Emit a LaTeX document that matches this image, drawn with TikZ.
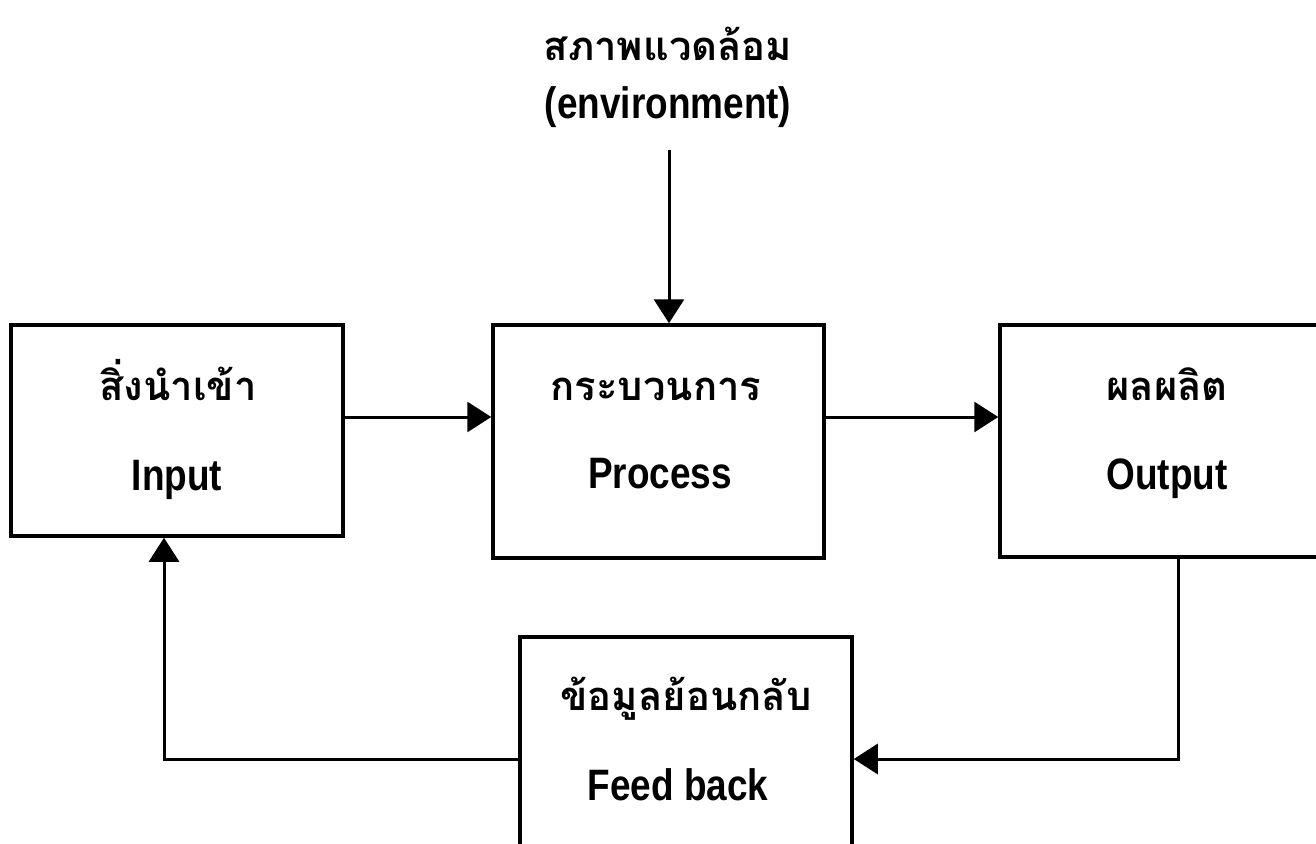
\documentclass[tikz,border=0pt]{standalone}
\usepackage{fontspec}
\setmainfont{Liberation Sans}[FakeStretch=0.84]
\newfontfamily\thaifont[Script=Thai]{Loma}
\usetikzlibrary{arrows.meta}
\tikzset{
  boxnode/.style={draw=black, line width=3.5pt, rectangle, inner sep=0pt},
  entext/.style={anchor=base, inner sep=0pt, font=\bfseries\fontsize{44}{50}\selectfont},
  thtext/.style={anchor=base, inner sep=0pt, font=\thaifont\bfseries\fontsize{40}{48}\selectfont},
  arr/.style={line width=3pt, -{Triangle[length=24pt,width=30pt]}},
  conn/.style={line width=3pt}
}
\begin{document}
\begin{tikzpicture}[x=1pt,y=-1pt]
\clip (0,0) rectangle (1316,843);
\fill[white] (0,0) rectangle (1316,843);
% boxes
\node[boxnode, minimum width=332pt, minimum height=211pt] (in) at (177,430.5) {};
\node[boxnode, minimum width=331pt, minimum height=233pt] (proc) at (658.5,441.5) {};
\node[boxnode, minimum width=334pt, minimum height=232pt] (out) at (1167,441) {};
\node[boxnode, minimum width=332pt, minimum height=233pt] (fb) at (686,753.5) {};
% texts
\node[thtext] (envth) at (668,60) {สภาพแวดล้อม};
\node[entext] (enven) at (668,118) {(environment)};
\node[thtext] (inth) at (178,400) {สิ่งนำเข้า};
\node[entext] (inen) at (177,490) {Input};
\node[thtext] (procth) at (656,400) {กระบวนการ};
\node[entext] (procen) at (660,488) {Process};
\node[thtext] (outth) at (1167,400) {ผลผลิต};
\node[entext] (outen) at (1167,489) {Output};
\node[thtext] (fbth) at (686,710) {ข้อมูลย้อนกลับ};
\node[entext] (fben) at (678,800) {Feed back};
% helper coordinates
\coordinate (row) at (0,417);
\coordinate (envtop) at (669,150);
\coordinate (ox) at (1178,0);
\coordinate (fy) at (0,759);
\coordinate (ix) at (164,0);
% connectors
\draw[arr] (in.east |- row) -- (proc.west |- row);
\draw[arr] (proc.east |- row) -- (out.west |- row);
\draw[arr] (envtop) -- (envtop |- proc.north);
\draw[arr] (ox |- out.south) |- (fb.east |- fy);
\draw[arr] (fb.west |- fy) -| (ix |- in.south);
\end{tikzpicture}
\end{document}
